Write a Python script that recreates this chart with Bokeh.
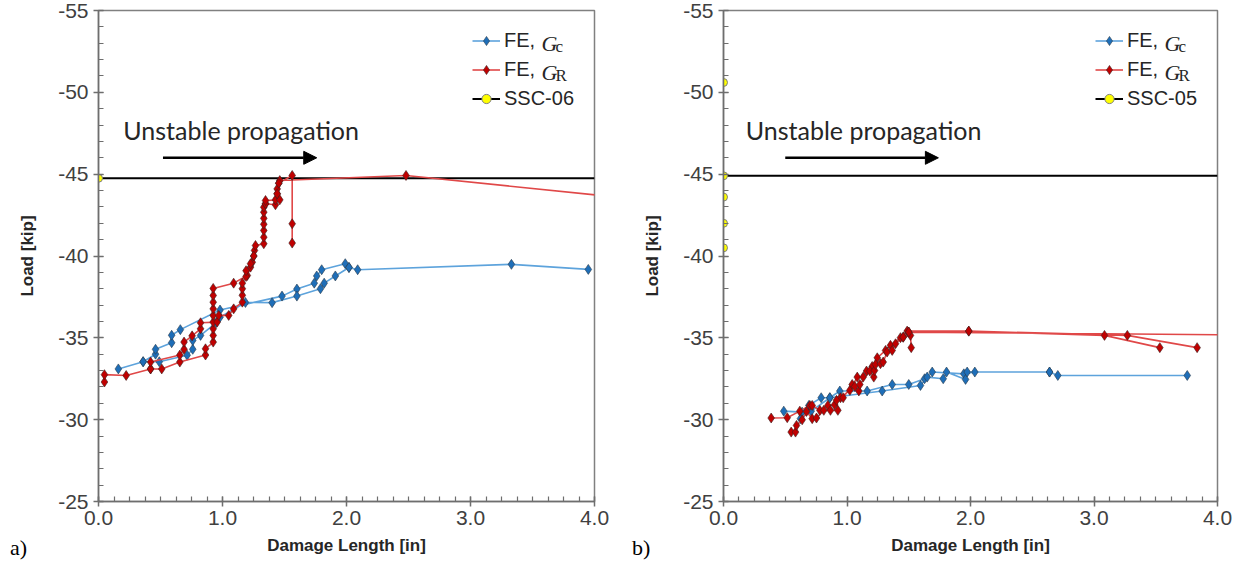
from bokeh.plotting import figure
from bokeh.layouts import row, column
from bokeh.models import (Range1d, SingleIntervalTicker, PrintfTickFormatter, Legend,
                          LegendItem, Label, Arrow, NormalHead, Div)
from bokeh.embed import file_html
from bokeh.resources import INLINE

nan = float("nan")

# ---------------- panel a) ----------------
a_gc_x = [0.16, 0.36, 0.46, 0.46, 0.59, 0.59, 0.66, 0.98, 1.48, 1.60, 1.74, 1.76, 1.80, 1.99, 2.02, nan,
          0.36, 0.49, 0.715, 0.76, 0.76, 0.823, 0.95, 0.98, 1.185, 1.40, 1.60, 1.79, 1.82, 1.91, 2.02, 2.09, 3.33, 3.95]
a_gc_y = [-33.1, -33.54, -34.0, -34.3, -34.7, -35.16, -35.5, -36.7, -37.55, -37.98, -38.34, -38.78, -39.16, -39.53, -39.3, nan,
          -33.54, -33.54, -33.94, -34.3, -34.84, -35.15, -35.93, -36.26, -37.16, -37.15, -37.55, -38.0, -38.34, -38.78, -39.3, -39.16, -39.49, -39.18]

a_gr_x = [0.048, 0.048, 0.223, 0.42, 0.51, 0.656, 0.863, 0.863, 0.925, 0.925, 0.925, 0.925, 0.925, 0.925, 0.925, 0.925, 0.925,
          1.09, 1.20, 1.226, 1.24, 1.252, 1.258, 1.266, 1.333, 1.333, 1.333, 1.333, 1.333, 1.333, 1.333, 1.347, 1.427, 1.427,
          1.441, 1.441, 1.454, 1.462, 2.48, 4.6, nan,
          0.42, 0.42, 0.656, 0.69, 0.69, 0.755, 0.823, 0.823, 0.957, 0.97, 1.05, 1.09, 1.16, 1.16, 1.16, 1.16, 1.19, 1.19,
          1.226, 1.252, nan,
          1.347, 1.347, 1.462, 1.441, nan,
          1.454, 1.562, 1.562, 1.562]
a_gr_y = [-32.3, -32.75, -32.7, -33.1, -33.1, -33.52, -33.95, -34.33, -34.74, -35.15, -35.55, -35.96, -36.37, -36.77, -37.18, -37.59, -38.02,
          -38.34, -38.81, -39.32, -39.62, -40.0, -40.34, -40.64, -40.75, -41.15, -41.56, -41.94, -42.3, -42.68, -42.98, -43.19, -43.13, -43.43,
          -43.8, -44.1, -44.45, -44.61, -44.92, -43.27, nan,
          -33.1, -33.52, -33.95, -34.3, -34.74, -35.12, -35.55, -35.92, -35.96, -36.37, -36.37, -36.77, -37.18, -37.6, -38.0, -38.34, -38.75, -39.1,
          -39.53, -40.0, nan,
          -43.19, -43.39, -43.43, -43.8, nan,
          -44.45, -44.92, -41.97, -40.79]

a_ssc_x = [0.0]
a_ssc_y = [-44.75]
a_crit_x = [0.0, 4.0]
a_crit_y = [-44.75, -44.75]

# ---------------- panel b) ----------------
b_gc_x = [0.488, 0.637, 0.691, 0.791, 0.861, 0.942, 1.163, 1.366, 1.50, 1.628, 1.69, 1.946, 2.035, 2.64, 2.707, 3.755, nan,
          0.623, 0.71, 0.861, 1.285, 1.595, 1.649, 1.779, 1.806, 1.96, 1.973, 2.64]
b_gc_y = [-30.52, -30.46, -30.87, -31.34, -31.34, -31.75, -31.75, -32.15, -32.15, -32.5, -32.91, -32.8, -32.91, -32.91, -32.7, -32.7, nan,
          -30.06, -30.52, -31.34, -31.75, -32.09, -32.6, -32.5, -32.91, -32.46, -32.91, -32.91]

b_gr_x = [0.386, 0.516, 0.618, 0.699, 0.718, 0.78, 0.845, 0.899, 0.947, 1.023, 1.083, 1.131, 1.158, 1.204, 1.245, 1.312, 1.352,
          1.433, 1.487, 1.986, 3.085, 3.533, nan,
          0.548, 0.583, 0.591, 0.637, 0.672, 0.718, 0.753, 0.812, 0.866, 0.926, 0.915, 0.969, 1.042, 1.063, 1.096, 1.104, 1.185,
          1.217, 1.223, 1.231, 1.271, 1.293, 1.325, 1.366, 1.393, 1.455, 1.50, 1.986, 3.27, 3.835, nan,
          1.455, 1.514, 1.52, nan,
          1.50, 4.6]
b_gr_y = [-30.1, -30.12, -30.52, -30.87, -30.87, -30.57, -30.87, -30.91, -31.34, -31.79, -32.6, -32.6, -32.97, -33.25, -33.78, -34.23, -34.54,
          -35.01, -35.41, -35.41, -35.15, -34.4, nan,
          -29.24, -29.24, -29.65, -29.99, -30.5, -30.06, -30.1, -30.57, -30.57, -30.57, -31.18, -31.34, -32.15, -32.03, -31.75, -32.15, -32.97,
          -32.6, -33.0, -33.37, -33.42, -33.52, -34.13, -34.23, -34.64, -35.04, -35.35, -35.41, -35.15, -34.4, nan,
          -35.04, -35.15, -34.4, nan,
          -35.35, -35.15]

b_ssc_x = [0.0, 0.0, 0.0, 0.0, 0.0]
b_ssc_y = [-50.6, -44.9, -43.6, -42.0, -40.5]
b_crit_x = [0.0, 4.0]
b_crit_y = [-44.9, -44.9]

x_ticks = [0.0, 1.0, 2.0, 3.0, 4.0]
y_ticks = [-55, -50, -45, -40, -35, -30, -25]

BLUE_LINE = "#5DA3DC"
BLUE_MARK = "#1E6EB8"
RED_LINE = "#E04848"
RED_MARK = "#C00000"
AX = "#6E6E6E"
TXT = "#404040"


def panel(gc_x, gc_y, gr_x, gr_y, ssc_x, ssc_y, crit_x, crit_y, ssc_label,
          bl, br, fw, text_x, arr_x0, arr_x1):
    p = figure(frame_width=fw, frame_height=491, min_border_left=bl, min_border_right=br,
               min_border_top=10, min_border_bottom=60,
               x_range=Range1d(x_ticks[0], x_ticks[-1]), y_range=Range1d(y_ticks[-1], y_ticks[0]),
               output_backend="svg", toolbar_location=None)
    p.xgrid.visible = False
    p.ygrid.visible = False
    p.outline_line_color = "#808080"
    p.outline_line_width = 1.5
    p.background_fill_color = "white"
    p.border_fill_color = "white"

    p.xaxis.ticker = SingleIntervalTicker(interval=1.0, num_minor_ticks=8)
    p.yaxis.ticker = SingleIntervalTicker(interval=5, num_minor_ticks=5)
    p.xaxis.formatter = PrintfTickFormatter(format="%.1f")
    p.yaxis.formatter = PrintfTickFormatter(format="%d")
    for ax in (p.xaxis[0], p.yaxis[0]):
        ax.axis_line_color = AX
        ax.axis_line_width = 1.5
        ax.major_tick_line_color = AX
        ax.minor_tick_line_color = AX
        ax.major_tick_line_width = 1.5
        ax.minor_tick_line_width = 1.2
        ax.major_tick_in = 5
        ax.major_tick_out = 5
        ax.minor_tick_in = 5
        ax.minor_tick_out = 0
        ax.major_label_text_font = "Liberation Sans"
        ax.major_label_text_font_size = "21px"
        ax.major_label_text_color = TXT
        ax.axis_label_text_font = "Liberation Sans"
        ax.axis_label_text_font_style = "bold"
        ax.axis_label_text_font_size = "17px"
        ax.axis_label_text_color = "#262626"
    p.xaxis.axis_label = "Damage Length [in]"
    p.yaxis.axis_label = "Load [kip]"
    p.xaxis.major_label_standoff = 4
    p.xaxis.axis_label_standoff = 8
    p.yaxis.major_label_standoff = 5
    p.yaxis.axis_label_standoff = 18

    crit_r = p.line(crit_x, crit_y, line_color="black", line_width=2)
    gc_l = p.line(gc_x, gc_y, line_color=BLUE_LINE, line_width=1.6)
    gc_m = p.scatter(gc_x, gc_y, marker="diamond", size=10,
                     fill_color=BLUE_MARK, line_color="#2a3a4a", line_width=0.6)
    gr_l = p.line(gr_x, gr_y, line_color=RED_LINE, line_width=1.6)
    gr_m = p.scatter(gr_x, gr_y, marker="diamond", size=10,
                     fill_color=RED_MARK, line_color="#3a2020", line_width=0.6)
    ssc_m = p.scatter(ssc_x, ssc_y, marker="circle", size=8, fill_color="#FFFF00",
                      line_color="#808080", line_width=1)

    lx = fw - 122
    legend = Legend(items=[LegendItem(label="FE,", renderers=[gc_l, gc_m]),
                           LegendItem(label="FE,", renderers=[gr_l, gr_m]),
                           LegendItem(label=ssc_label, renderers=[crit_r, ssc_m])],
                    location=(lx, 391), orientation="vertical",
                    background_fill_alpha=0, border_line_color=None,
                    padding=0, margin=0, spacing=6, glyph_width=28, glyph_height=23,
                    label_height=23, label_standoff=4,
                    label_text_font="Liberation Sans", label_text_font_size="20px",
                    label_text_color="#262626")
    p.add_layout(legend, "center")

    gx = lx + 28 + 4 + 37
    for i, sub in enumerate(["c", "R"]):
        yb = 458 - 29 * i
        p.add_layout(Label(x=gx, y=yb, x_units="screen", y_units="screen", text="G",
                           text_font="Liberation Serif", text_font_style="italic",
                           text_font_size="22px", text_color="#262626", text_baseline="alphabetic"))
        p.add_layout(Label(x=gx + 14, y=yb - 3, x_units="screen", y_units="screen", text=sub,
                           text_font="Liberation Serif", text_font_size="17px",
                           text_color="#262626", text_baseline="alphabetic"))

    p.add_layout(Label(x=text_x, y=-47.7, text="Unstable propagation", text_font="Lato",
                       text_font_size="25px", text_color="#262626", text_baseline="middle"))
    p.add_layout(Arrow(x_start=arr_x0, y_start=-46.0, x_end=arr_x1, y_end=-46.0,
                       line_color="black", line_width=2.5,
                       end=NormalHead(size=13, fill_color="black", line_color="black")))
    return p


pa = panel(a_gc_x, a_gc_y, a_gr_x, a_gr_y, a_ssc_x, a_ssc_y, a_crit_x, a_crit_y, "SSC-06",
           98, 26, 496, 0.20, 0.52, 1.76)
pb = panel(b_gc_x, b_gc_y, b_gr_x, b_gr_y, b_ssc_x, b_ssc_y, b_crit_x, b_crit_y, "SSC-05",
           103, 19, 494, 0.18, 0.50, 1.74)

tag_style = {"font-family": "Liberation Serif", "font-size": "22px", "color": "black",
             "line-height": "24px"}
tag_a = Div(text="a)", width=30, height=24, margin=(-25, 0, 0, 10), styles=tag_style)
tag_b = Div(text="b)", width=30, height=24, margin=(-25, 0, 0, 592), styles=tag_style)

layout = column(row(pa, pb), row(tag_a, tag_b))
open("out.html", "w").write(file_html(layout, INLINE))
